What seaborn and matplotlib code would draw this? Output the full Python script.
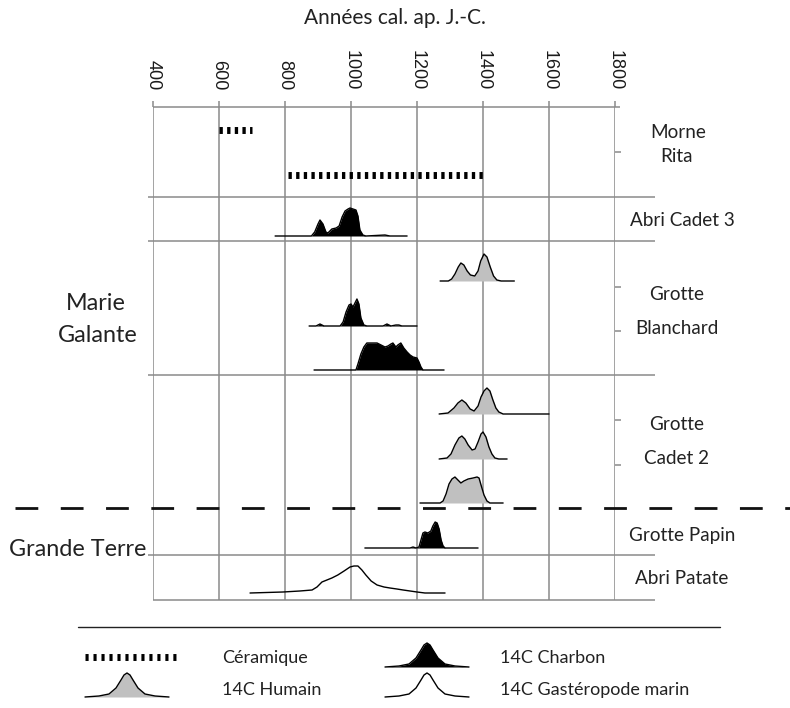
import numpy as np
import seaborn as sns
import matplotlib.pyplot as plt

# --- data: calibrated ranges (years AD), curve heights (px) ---
ceram_start = [600, 810]
ceram_end = [700, 1400]

cadet3_yr = [770, 880, 890, 900, 906, 915, 924, 930, 942, 955, 964, 973, 982, 991, 997,
             1006, 1015, 1021, 1027, 1036, 1045, 1103, 1118, 1170]
cadet3_h = [0, 0, 4, 12, 16, 12, 4, 3, 7, 8, 10, 19, 25, 27, 28, 27, 26, 20, 6, 1, 0, 1, 0, 0]

blanch_hum_yr = [1270, 1295, 1305, 1315, 1325, 1333, 1342, 1352, 1362, 1375, 1385, 1393,
                 1403, 1412, 1422, 1432, 1442, 1455, 1495]
blanch_hum_h = [0, 0, 2, 7, 14, 18, 16, 10, 6, 5, 10, 20, 27, 24, 14, 5, 1, 0, 0]

blanch_ch1_yr = [873, 894, 906, 918, 967, 976, 985, 994, 1000, 1006, 1012, 1018, 1024, 1030,
                 1039, 1048, 1097, 1109, 1121, 1136, 1145, 1154, 1200]
blanch_ch1_h = [0, 0, 2, 0, 0, 4, 14, 21, 22, 19, 23, 27, 22, 8, 1, 0, 0, 2, 0, 1, 1, 0, 0]

blanch_ch2_yr = [888, 1015, 1021, 1030, 1039, 1048, 1064, 1079, 1091, 1103, 1112, 1121, 1127,
                 1136, 1142, 1151, 1160, 1170, 1179, 1188, 1200, 1206, 1212, 1218, 1282]
blanch_ch2_h = [0, 0, 6, 16, 23, 27, 27, 27, 25, 23, 24, 26, 27, 23, 25, 27, 22, 18, 15, 13,
                12, 8, 3, 0, 0]

cadet2_a_yr = [1267, 1294, 1312, 1324, 1336, 1348, 1361, 1373, 1385, 1394, 1403, 1412, 1421,
               1430, 1439, 1448, 1461, 1600]
cadet2_a_h = [0, 1, 6, 11, 14, 11, 5, 3, 8, 17, 23, 26, 23, 14, 6, 2, 0, 0]

cadet2_b_yr = [1267, 1291, 1303, 1315, 1327, 1336, 1345, 1355, 1367, 1376, 1385, 1394, 1400,
               1409, 1418, 1427, 1436, 1448, 1473]
cadet2_b_h = [0, 1, 5, 14, 21, 23, 20, 14, 9, 10, 17, 25, 27, 22, 12, 5, 1, 0, 0]

cadet2_c_yr = [1209, 1270, 1279, 1288, 1297, 1306, 1315, 1324, 1333, 1342, 1355, 1370, 1382,
               1388, 1394, 1403, 1412, 1421, 1461]
cadet2_c_h = [0, 0, 2, 9, 19, 24, 26, 23, 20, 22, 24, 25, 26, 25, 18, 8, 2, 0, 0]

papin_yr = [1042, 1179, 1188, 1197, 1206, 1212, 1218, 1224, 1233, 1242, 1248, 1255, 1261,
            1267, 1273, 1279, 1285, 1385]
papin_h = [0, 0, 1, 0, 1, 8, 15, 16, 15, 17, 22, 26, 25, 19, 8, 2, 0, 0]

patate_yr = [694, 794, 845, 882, 897, 912, 927, 942, 960, 979, 997, 1009, 1021, 1033, 1045,
             1061, 1079, 1100, 1118, 1139, 1158, 1179, 1200, 1224, 1285]
patate_h = [0, 1, 2, 3, 6, 11, 13, 15, 18, 22, 26, 27, 27, 23, 18, 12, 8, 6, 5, 4, 3, 2, 1, 0, 0]

year_ticks = [400, 600, 800, 1000, 1200, 1400, 1600, 1800]

site_lines = ["Morne", "Rita", "Abri Cadet 3", "Grotte", "Blanchard", "Grotte", "Cadet 2",
              "Grotte Papin", "Abri Patate"]
island_lines = ["Marie", "Galante", "Grande Terre"]
legend_labels = ["Céramique", "14C Charbon", "14C Humain", "14C Gastéropode marin"]

# legend bell symbol (offset px, height px)
bell_dx = [-42, -28, -18, -11, -6, -3, 0, 3, 6, 11, 18, 28, 42]
bell_h = [0, 1, 3, 9, 17, 22, 24, 22, 17, 9, 3, 1, 0]

# --- layout (pixels) ---
W, H = 790, 708
GRID = '#8a8a8a'
FILL = {'charbon': 'black', 'humain': '#c0c0c0', 'gast': None}

curves = [
    (cadet3_yr, cadet3_h, 236, 'charbon'),
    (blanch_hum_yr, blanch_hum_h, 281, 'humain'),
    (blanch_ch1_yr, blanch_ch1_h, 326, 'charbon'),
    (blanch_ch2_yr, blanch_ch2_h, 370, 'charbon'),
    (cadet2_a_yr, cadet2_a_h, 414, 'humain'),
    (cadet2_b_yr, cadet2_b_h, 459, 'humain'),
    (cadet2_c_yr, cadet2_c_h, 503, 'humain'),
    (papin_yr, papin_h, 548, 'charbon'),
    (patate_yr, patate_h, 593, 'gast'),
]
ceram_y = [130, 175]
sep_y = [197, 241, 375, 555]

sns.set_style("white")
plt.rcParams['font.family'] = ['Lato', 'DejaVu Sans']

fig = plt.figure(figsize=(W / 100, H / 100), dpi=100)
ax = fig.add_axes([153 / W, 1 - 600 / H, (615 - 153) / W, (600 - 107) / H])
ax.set_xlim(400, 1800)
ax.set_ylim(600, 107)
for s in ax.spines.values():
    s.set_visible(False)

# grid
ax.vlines(year_ticks, 107, 600, color=GRID, lw=1.1, zorder=1)
ax.hlines(107, 400, 1814, color=GRID, lw=1.1, clip_on=False)
ax.hlines(sep_y, 385, 1921, color=GRID, lw=1.1, clip_on=False)
ax.hlines(600, 400, 1921, color=GRID, lw=1.1, clip_on=False)

ax.xaxis.tick_top()
ax.set_xticks(year_ticks)
ax.set_xticklabels([str(t) for t in year_ticks], rotation=270, fontsize=13,
                   family='Liberation Sans', color='#1a1a1a')
ax.tick_params(axis='x', length=4, width=1.1, color=GRID, pad=8)
ax.yaxis.tick_right()
ax.set_yticks([152, 287, 331, 420, 465])
ax.set_yticklabels([])
ax.tick_params(axis='y', length=4, width=1.1, color=GRID)

# ceramics
for x0, x1, yc in zip(ceram_start, ceram_end, ceram_y):
    ax.plot([x0, x1], [yc, yc], color='black', lw=5, ls=(0, (0.48, 0.62)),
            dash_capstyle='butt', zorder=3)

# radiocarbon curves
for yr, h, base, kind in curves:
    yy = base - np.array(h, dtype=float)
    if FILL[kind] is not None:
        ax.fill_between(yr, base, yy, color=FILL[kind], lw=0, zorder=2)
    sns.lineplot(x=yr, y=yy, ax=ax, color='black', lw=1.0, estimator=None,
                 sort=False, zorder=3)
ax.set_xlabel('')
ax.set_ylabel('')

# overlay in pixel coordinates
lay = fig.add_axes([0, 0, 1, 1], zorder=5)
lay.set_xlim(0, W)
lay.set_ylim(H, 0)
lay.patch.set_alpha(0)

lay.text(395, 18, "Années cal. ap. J.-C.", ha='center', va='center', fontsize=15,
         color='#222222')
lay.plot([15, 790], [508, 508], color='#111111', lw=2, ls=(0, (8.2, 8.1)))

site_x = [678, 677, 682, 677, 677, 677, 677, 682, 682]
site_y = [132, 157, 221, 295, 329, 425, 459, 535, 578]
for t, xx, yy in zip(site_lines, site_x, site_y):
    lay.text(xx, yy, t, ha='center', va='center', fontsize=13.6, color='#222222')
for t, xx, yy in zip(island_lines, [96, 98, 78], [303, 336, 550]):
    lay.text(xx, yy, t, ha='center', va='center', fontsize=16.8, color='#222222')

# legend
lay.plot([78, 720], [627, 627], color='#222222', lw=1.0)
lay.plot([85, 180], [657, 657], color='black', lw=5, ls=(0, (0.45, 0.7)),
         dash_capstyle='butt')
for cx, base, kind in [(427, 667, 'charbon'), (127, 697, 'humain'), (427, 697, 'gast')]:
    xs = cx + np.array(bell_dx, dtype=float)
    ys = base - np.array(bell_h, dtype=float)
    if FILL[kind] is not None:
        lay.fill_between(xs, base, ys, color=FILL[kind], lw=0)
    sns.lineplot(x=xs, y=ys, ax=lay, color='black', lw=1.0, estimator=None, sort=False)
lay.axis('off')
for t, xx, yy in zip(legend_labels, [222, 500, 222, 500], [658, 658, 690, 690]):
    lay.text(xx, yy, t, ha='left', va='center', fontsize=13, color='#222222')

fig.savefig('out.png', dpi=100)
